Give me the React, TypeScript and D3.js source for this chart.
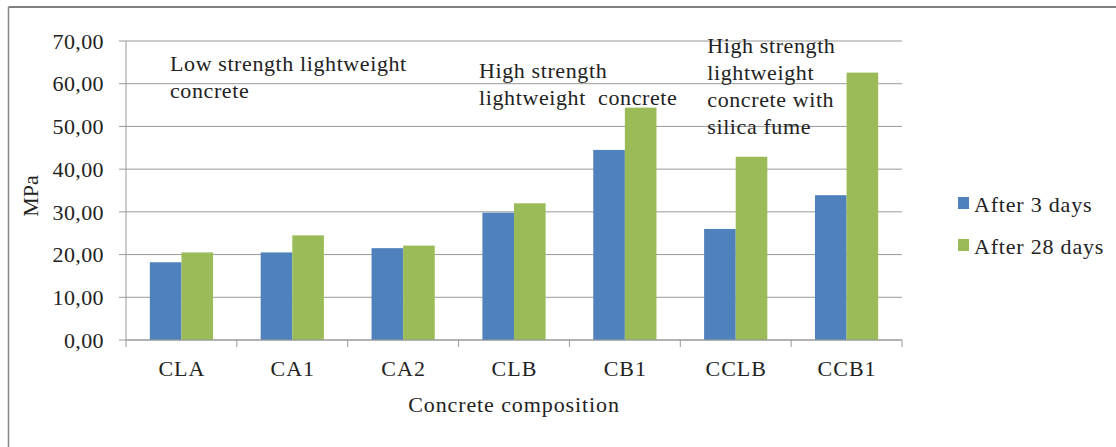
import React from "react";
import * as d3 from "d3";

const categories = ["CLA", "CA1", "CA2", "CLB", "CB1", "CCLB", "CCB1"];
const after3 = [18.2, 20.5, 21.5, 29.8, 44.5, 26.0, 33.9];
const after28 = [20.5, 24.5, 22.1, 32.0, 54.4, 42.9, 62.6];
const seriesNames = ["After 3 days", "After 28 days"];
const seriesColors = ["#4f81bd", "#9bbb59"];
const yTicks = [0, 10, 20, 30, 40, 50, 60, 70];
const annotations = [
  { cat: "CLA", offset: 44, value: 63.0, lines: ["Low strength lightweight", "concrete"] },
  { cat: "CLB", offset: 20.5, value: 61.4, lines: ["High strength", "lightweight  concrete"] },
  { cat: "CCLB", offset: 27, value: 67.1, lines: ["High strength", "lightweight", "concrete with", "silica fume"] },
];

export default function App() {
  const W = 1116, H = 447;
  const left = 126, right = 902, top = 41, bottom = 340;
  const x = d3.scaleBand().domain(categories).range([left, right]).paddingInner(0).paddingOuter(0);
  const y = d3.scaleLinear().domain([0, 70]).range([bottom, top]);
  const bw = x.bandwidth();
  const barW = bw * 0.285;
  const groupOff = (bw - 2 * barW) / 2;
  const font = '"Liberation Serif", "DejaVu Serif", "Times New Roman", serif';
  const fs = 22;
  const fmt = (v: number) => v.toFixed(2).replace(".", ",");
  const series = [after3, after28];

  return (
    <svg width={W} height={H} style={{ position: "absolute", left: 0, top: 0, display: "block", fontFamily: font }}>
      <rect x={0} y={0} width={W} height={H} fill="#fff" />
      <line x1={8.5} y1={7} x2={W} y2={7} stroke="#555" strokeWidth={1.5} />
      <line x1={8.5} y1={7} x2={8.5} y2={H} stroke="#888" strokeWidth={1.5} />
      {yTicks.map((t) => (
        <g key={t}>
          <line x1={left - 7} x2={right} y1={y(t)} y2={y(t)} stroke="#999" strokeWidth={1} />
          <text x={104} y={y(t)} dy="0.35em" textAnchor="end" fontSize={fs} letterSpacing={0.4} fill="#222">{fmt(t)}</text>
        </g>
      ))}
      <line x1={left} x2={left} y1={top} y2={bottom + 7} stroke="#999" strokeWidth={1} />
      {categories.map((c) => (
        <line key={"tk" + c} x1={x(c)! + bw} x2={x(c)! + bw} y1={bottom} y2={bottom + 7} stroke="#999" strokeWidth={1} />
      ))}
      {series.map((vals, s) =>
        vals.map((v, i) => (
          <rect
            key={s + "-" + i}
            x={x(categories[i])! + groupOff + s * barW}
            y={y(v)}
            width={barW}
            height={y(0) - y(v)}
            fill={seriesColors[s]}
          />
        ))
      )}
      <line x1={left} x2={right} y1={bottom} y2={bottom} stroke="#999" strokeWidth={1} />
      {categories.map((c) => (
        <text key={"l" + c} x={x(c)! + bw / 2 + 0.5} y={376} textAnchor="middle" fontSize={fs} letterSpacing={1} fill="#222">{c}</text>
      ))}
      <text x={514} y={412} textAnchor="middle" fontSize={fs} letterSpacing={0.9} fill="#222">Concrete composition</text>
      <text transform={`translate(38,196) rotate(-90)`} textAnchor="middle" fontSize={fs} fill="#222">MPa</text>
      {annotations.map((a, k) => (
        <text key={"a" + k} x={x(a.cat)! + a.offset} y={y(a.value)} fontSize={fs} letterSpacing={0.6} fill="#222">
          {a.lines.map((ln, j) => (
            <tspan key={j} x={x(a.cat)! + a.offset} dy={j === 0 ? 0 : 27} style={{ whiteSpace: "pre" }}>{ln}</tspan>
          ))}
        </text>
      ))}
      {seriesNames.map((n, s) => (
        <g key={n}>
          <rect x={958} y={197 + s * 42} width={11} height={12} fill={seriesColors[s]} />
          <text x={974} y={211.5 + s * 42} fontSize={fs} letterSpacing={0.8} fill="#222">{n}</text>
        </g>
      ))}
    </svg>
  );
}
